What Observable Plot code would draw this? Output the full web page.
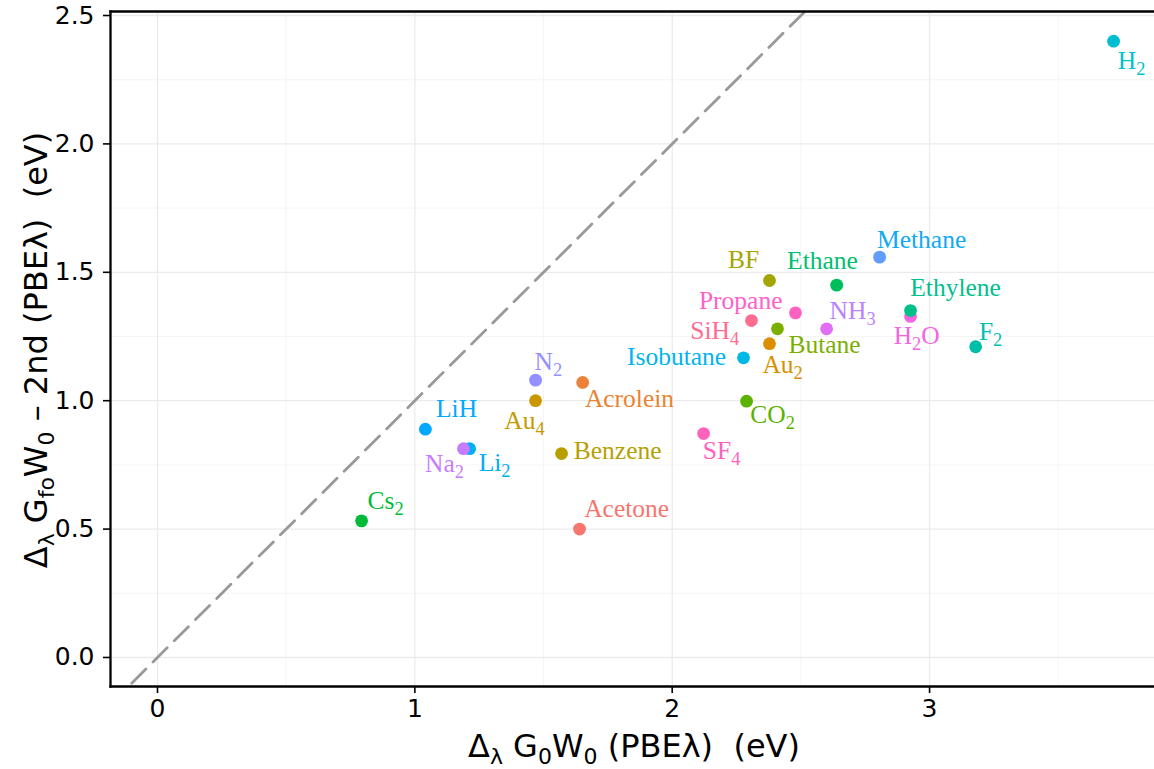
<!DOCTYPE html>
<html>
<head>
<meta charset="utf-8">
<script src="https://cdn.jsdelivr.net/npm/d3@7"></script>
<script src="https://cdn.jsdelivr.net/npm/@observablehq/plot@0.6"></script>
<style>
  html, body { margin: 0; padding: 0; background: #fff; }
</style>
</head>
<body>
<div id="chart"></div>
<script>
// ---- data ----
const names = ["Acetone","Acrolein","Au2","Au4","Benzene","BF","Butane","CO2","Cs2","Ethane","H2O","Ethylene","F2","H2","Isobutane","Li2","LiH","Methane","N2","Na2","NH3","Propane","SF4","SiH4"];
const g0w0 = [1.640,1.652,2.378,1.469,1.570,2.378,2.409,2.289,0.793,2.639,2.926,2.926,3.179,3.715,2.277,1.213,1.041,2.806,1.469,1.189,2.600,2.479,2.122,2.308];
const gfoMinus2nd = [0.500,1.071,1.222,1.000,0.794,1.468,1.280,0.998,0.532,1.450,1.328,1.351,1.210,2.400,1.167,0.813,0.889,1.559,1.080,0.813,1.280,1.342,0.872,1.312];
// repelled label positions (data units)
const labelX = [1.823,1.834,2.429,1.426,1.788,2.277,2.592,2.390,0.886,2.584,2.950,3.101,3.237,3.785,2.017,1.310,1.162,2.969,1.519,1.115,2.701,2.266,2.192,2.165];
const labelY = [0.580,1.009,1.140,0.923,0.806,1.550,1.217,0.946,0.611,1.546,1.254,1.441,1.269,2.325,1.172,0.759,0.970,1.628,1.153,0.755,1.351,1.390,0.806,1.273];
const dotColors = ["#F8766D","#EC8239","#DB8E00","#C99800","#B79F00","#A3A500","#7CAE00","#5BB300","#00BA38","#00BD5C","#F564E3","#00C089","#00BFA9","#00BDD0","#00B8E5","#00B0F6","#00A9FF","#619CFF","#9590FF","#C77CFF","#E36EF6","#FF61C3","#FF62BC","#FF6C91"];
const labelColors = ["#F8766D","#EA8331","#D89000","#C49A00","#B79F00","#A3A500","#7CAE00","#5BB300","#00BA38","#00BE70","#F564E3","#00C08D","#00BFB5","#00C1CD","#00B4EF","#00ADFA","#00A9FF","#0FAAF5","#9590FF","#C77CFF","#B983FF","#FF61C9","#FF62BC","#FF6C91"];
const xTicks = [0, 1, 2, 3];
const yTicks = [0, 0.5, 1, 1.5, 2, 2.5];
const xMinor = [0.5, 1.5, 2.5, 3.5];
const yMinor = [0.25, 0.75, 1.25, 1.75, 2.25];
const diagX = [-0.1, 2.6];

const data = names.map((n, i) => ({
  name: n, x: g0w0[i], y: gfoMinus2nd[i], lx: labelX[i], ly: labelY[i],
  dc: dotColors[i], lc: labelColors[i]
}));
const diag = diagX.map(v => ({x: v, y: v}));

const sansFont = "'DejaVu Sans', 'Liberation Sans', Arial, sans-serif";

const svg = Plot.plot({
  width: 1154,
  height: 769,
  marginLeft: 110,
  marginRight: 0,
  marginTop: 11,
  marginBottom: 83,
  style: {fontFamily: sansFont, background: "#fff", color: "#000"},
  x: {domain: [-0.1826, 3.874], label: null},
  y: {domain: [-0.113, 2.5156], label: null},
  color: {type: "identity"},
  marks: [
    Plot.gridX(xMinor, {stroke: "#f3f3f3", strokeOpacity: 1, strokeWidth: 0.8}),
    Plot.gridY(yMinor, {stroke: "#f3f3f3", strokeOpacity: 1, strokeWidth: 0.8}),
    Plot.gridX(xTicks, {stroke: "#ebebeb", strokeOpacity: 1, strokeWidth: 1.3}),
    Plot.gridY(yTicks, {stroke: "#ebebeb", strokeOpacity: 1, strokeWidth: 1.3}),
    Plot.line(diag, {x: "x", y: "y", stroke: "#999999", strokeWidth: 2.8, strokeDasharray: "20,10", clip: true}),
    Plot.dot(data, {x: "x", y: "y", r: 6.4, fill: "dc", stroke: null}),
    Plot.text(data, {x: "lx", y: "ly", text: "name", fill: "lc", fontFamily: "'Liberation Serif', 'DejaVu Serif', serif", fontSize: 25.5}),
    Plot.axisX(xTicks, {tickSize: 7, tickPadding: 6, fontSize: 25, tickFormat: d => String(d), strokeWidth: 1.6, label: null}),
    Plot.axisY(yTicks, {tickSize: 7, tickPadding: 9, fontSize: 25, tickFormat: d3.format(".1f"), strokeWidth: 1.6, label: null}),
    Plot.frame({anchor: "left", stroke: "#000", strokeWidth: 2.3}),
    Plot.frame({anchor: "top", stroke: "#000", strokeWidth: 2.3}),
    Plot.frame({anchor: "bottom", stroke: "#000", strokeWidth: 2.3})
  ]
});

document.getElementById("chart").appendChild(svg);

// subscript digits in point labels
d3.select(svg).selectAll('g[aria-label="text"] text').each(function() {
  const el = d3.select(this);
  const s = this.textContent;
  if (!/\d/.test(s)) return;
  const parts = s.split(/(\d+)/).filter(p => p.length);
  el.text(null);
  let down = false;
  parts.forEach(p => {
    const isSub = /^\d+$/.test(p);
    const t = el.append("tspan").text(p);
    if (isSub) { t.attr("font-size", "72%").attr("dy", down ? null : 6); down = true; }
    else if (down) { t.attr("dy", -6); down = false; }
  });
});

// rich axis titles
function richText(g, parts, size) {
  let down = false;
  parts.forEach(([str, sub]) => {
    const t = g.append("tspan").text(str);
    if (sub) { t.attr("font-size", Math.round(size * 0.7)).attr("dy", down ? null : 7); down = true; }
    else if (down) { t.attr("dy", -7); down = false; }
  });
}
const titleSize = 32;
const sv = d3.select(svg);
const xt = sv.append("text")
  .attr("x", 634).attr("y", 757)
  .attr("text-anchor", "middle")
  .attr("font-family", sansFont)
  .attr("font-size", titleSize).attr("fill", "#000")
  .style("white-space", "pre");
richText(xt, [["Δ", false], ["λ", true], [" G", false], ["0", true], ["W", false], ["0", true], [" (PBEλ)\u00a0 (eV)", false]], titleSize);

const yt = sv.append("text")
  .attr("transform", "translate(47,350) rotate(-90)")
  .attr("text-anchor", "middle")
  .attr("font-family", sansFont)
  .attr("font-size", titleSize).attr("fill", "#000")
  .style("white-space", "pre");
richText(yt, [["Δ", false], ["λ", true], [" G", false], ["fo", true], ["W", false], ["0", true], [" – 2nd (PBEλ)\u00a0 (eV)", false]], titleSize);
</script>
</body>
</html>
